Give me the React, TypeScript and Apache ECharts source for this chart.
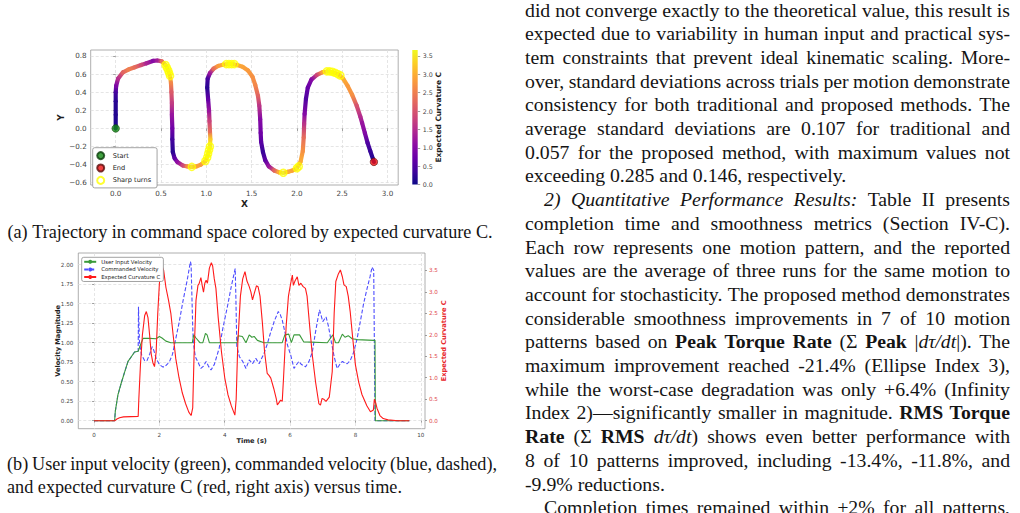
import React, { useEffect, useRef } from "react";
import * as echarts from "echarts";

// ---------- (a) trajectory in command space: [x, y, expected curvature C] ----------
const trajectory: [number, number, number][] = [
  [0, 0, 0.1], [0, 0.15, 0.15], [0, 0.3, 0.2], [0, 0.4, 0.4], [0.005, 0.47, 0.9],
  [0.026, 0.55, 1.5], [0.08, 0.62, 2.2], [0.14, 0.65, 2.5], [0.21, 0.675, 2.3], [0.28, 0.7, 1.9],
  [0.34, 0.72, 1.4], [0.41, 0.745, 1.0], [0.46, 0.75, 1.3], [0.51, 0.74, 2.3], [0.55, 0.7, 3.55],
  [0.58, 0.64, 3.6], [0.6, 0.58, 3.4], [0.61, 0.5, 2.6], [0.615, 0.4, 2.1], [0.62, 0.28, 1.7],
  [0.62, 0.15, 1.2], [0.625, 0.0, 0.8], [0.625, -0.12, 0.4], [0.63, -0.26, 0.2], [0.65, -0.33, 0.6],
  [0.68, -0.37, 1.1], [0.74, -0.41, 1.8], [0.79, -0.42, 2.6], [0.84, -0.425, 3.5], [0.89, -0.42, 2.9],
  [0.94, -0.4, 2.8], [0.99, -0.36, 3.4], [1.02, -0.29, 3.6], [1.04, -0.2, 3.6], [1.045, -0.12, 3.3],
  [1.04, -0.03, 2.3], [1.035, 0.08, 1.8], [1.03, 0.2, 1.2], [1.02, 0.32, 0.7], [1.01, 0.45, 0.2],
  [1.015, 0.55, 0.4], [1.04, 0.61, 1.2], [1.08, 0.66, 2.3], [1.13, 0.69, 2.8], [1.19, 0.705, 3.0],
  [1.24, 0.71, 3.6], [1.29, 0.71, 3.6], [1.34, 0.7, 3.0], [1.4, 0.68, 2.9], [1.46, 0.64, 2.8],
  [1.51, 0.57, 2.7], [1.54, 0.48, 2.6], [1.57, 0.36, 2.2], [1.585, 0.25, 1.6], [1.595, 0.1, 1.0],
  [1.6, -0.05, 0.8], [1.605, -0.15, 0.6], [1.625, -0.26, 0.3], [1.65, -0.35, 0.6], [1.69, -0.42, 1.2],
  [1.75, -0.465, 2.2], [1.8, -0.485, 3.0], [1.85, -0.49, 3.6], [1.9, -0.48, 3.0], [1.95, -0.465, 2.9],
  [2.0, -0.44, 3.5], [2.04, -0.37, 3.0], [2.065, -0.25, 2.7], [2.075, -0.1, 2.3], [2.08, 0.05, 1.6],
  [2.085, 0.16, 1.0], [2.1, 0.33, 0.5], [2.12, 0.45, 0.7], [2.16, 0.54, 1.0], [2.22, 0.59, 1.8],
  [2.28, 0.62, 2.8], [2.34, 0.63, 3.6], [2.4, 0.62, 3.6], [2.46, 0.595, 3.4], [2.51, 0.55, 3.0],
  [2.56, 0.47, 2.8], [2.61, 0.37, 2.7], [2.66, 0.25, 2.0], [2.7, 0.13, 1.5], [2.72, 0.06, 1.2],
  [2.75, -0.05, 1.0], [2.78, -0.16, 0.5], [2.81, -0.25, 0.3], [2.84, -0.34, 0.15], [2.85, -0.37, 0.1],
];

const sharpTurns: [number, number][] = [
  [0.55, 0.7], [0.565, 0.67], [0.58, 0.64], [0.59, 0.61], [0.6, 0.58],
  [0.84, -0.425],
  [0.99, -0.36], [1.01, -0.32], [1.02, -0.28], [1.03, -0.24], [1.04, -0.2],
  [1.22, 0.71], [1.25, 0.71], [1.28, 0.71], [1.31, 0.71],
  [1.85, -0.49],
  [2.0, -0.44], [2.02, -0.42],
  [2.33, 0.63], [2.36, 0.63], [2.39, 0.625], [2.42, 0.615], [2.45, 0.6], [2.48, 0.585],
];

const startPoint: [number, number] = [0, 0];
const endPoint: [number, number] = [2.85, -0.37];

const trajXTicks = [0, 0.5, 1, 1.5, 2, 2.5, 3];
const trajYTicks = [-0.6, -0.4, -0.2, 0, 0.2, 0.4, 0.6, 0.8];
const colorbarTicks = [0, 0.5, 1, 1.5, 2, 2.5, 3, 3.5];

// ---------- (b) velocities and expected curvature versus time: [t, value] ----------
const userVelocity: [number, number][] = [
  [0, 0], [0.63, 0], [0.65, 0.12], [0.73, 0.33], [0.83, 0.48], [0.94, 0.63], [1.04, 0.76],
  [1.14, 0.82], [1.24, 0.88], [1.35, 0.89], [1.42, 0.97], [1.5, 1.055], [1.7, 1.055], [1.9, 1.05],
  [2.0, 1.08], [2.08, 1.06], [2.2, 1.02], [2.35, 1.0], [3.01, 1.0], [3.05, 1.1], [3.12, 1.06],
  [3.24, 1.0], [3.33, 1.0], [3.41, 1.12], [3.46, 1.1], [3.53, 1.0], [4.38, 1.0], [4.41, 1.09],
  [4.54, 1.08], [4.65, 1.0], [4.75, 1.1], [4.83, 1.07], [4.9, 1.08], [5.0, 1.03], [5.2, 1.0],
  [5.76, 1.0], [5.84, 1.1], [5.96, 1.11], [6.04, 1.0], [6.12, 1.1], [6.29, 1.1], [6.42, 1.01],
  [7.14, 1.0], [7.24, 1.06], [7.31, 1.1], [7.39, 1.0], [7.48, 1.0], [7.6, 1.11], [7.68, 1.07],
  [7.78, 1.09], [7.9, 1.05], [8.05, 1.04], [8.56, 1.03], [8.6, 1.03], [8.61, 0], [9.65, 0],
];

const commandedVelocity: [number, number][] = [
  [0, 0], [0.63, 0], [0.65, 0.12], [0.73, 0.33], [0.83, 0.48], [0.94, 0.63], [1.04, 0.76],
  [1.14, 0.82], [1.24, 0.88], [1.35, 0.89], [1.36, 1.46], [1.39, 1.0], [1.45, 0.85], [1.55, 0.77],
  [1.62, 0.77], [1.7, 0.85], [1.78, 0.95], [1.83, 0.9], [1.9, 0.8], [2.0, 0.72], [2.1, 0.69],
  [2.16, 0.69], [2.25, 0.73], [2.31, 0.76], [2.4, 0.85], [2.46, 0.97], [2.6, 1.25], [2.72, 1.53],
  [2.85, 1.8], [2.95, 2.04], [2.97, 2.0], [3.02, 1.2], [3.04, 1.0], [3.1, 0.82], [3.17, 0.76],
  [3.27, 0.67], [3.35, 0.7], [3.43, 0.76], [3.5, 0.7], [3.58, 0.65], [3.68, 0.72], [3.83, 0.93],
  [3.95, 1.2], [4.09, 1.48], [4.2, 1.72], [4.32, 1.95], [4.34, 1.6], [4.37, 0.95], [4.45, 0.82],
  [4.55, 0.76], [4.65, 0.67], [4.75, 0.78], [4.85, 0.73], [4.95, 0.8], [5.05, 0.73], [5.2, 0.86],
  [5.3, 0.98], [5.41, 1.14], [5.52, 1.28], [5.64, 1.4], [5.7, 1.36], [5.76, 1.29], [5.85, 1.12],
  [5.92, 0.97], [6.02, 0.84], [6.12, 0.67], [6.2, 0.72], [6.27, 0.76], [6.35, 0.72], [6.47, 0.69],
  [6.58, 0.76], [6.68, 0.88], [6.78, 1.14], [6.9, 1.42], [6.95, 1.35], [7.0, 1.27], [7.05, 1.3],
  [7.1, 1.33], [7.17, 1.22], [7.24, 1.06], [7.35, 0.82], [7.44, 0.67], [7.52, 0.72], [7.6, 0.76],
  [7.68, 0.74], [7.75, 0.73], [7.85, 0.78], [7.95, 0.88], [8.05, 1.05], [8.15, 1.27], [8.25, 1.5],
  [8.36, 1.7], [8.45, 1.85], [8.51, 1.97], [8.56, 1.93], [8.58, 1.0], [8.6, 0], [9.65, 0],
];

const expectedCurvature: [number, number][] = [
  [0, 0], [0.64, 0], [0.7, 0.04], [0.78, 0.07], [0.9, 0.09], [1.35, 0.1], [1.37, 0.5], [1.42, 1.3],
  [1.48, 2.0], [1.55, 2.45], [1.6, 2.54], [1.65, 2.4], [1.7, 2.0], [1.75, 1.55], [1.8, 1.35],
  [1.85, 1.26], [1.9, 1.6], [1.95, 2.5], [2.0, 3.2], [2.07, 3.62], [2.13, 3.5], [2.2, 3.1],
  [2.28, 2.8], [2.35, 2.5], [2.42, 2.0], [2.5, 1.45], [2.6, 1.0], [2.7, 0.65], [2.8, 0.4],
  [2.9, 0.2], [2.97, 0.12], [3.02, 0.3], [3.06, 1.5], [3.12, 2.8], [3.18, 3.15], [3.22, 3.2],
  [3.27, 3.33], [3.31, 3.15], [3.35, 2.99], [3.39, 3.2], [3.43, 3.27], [3.47, 3.2], [3.53, 3.55],
  [3.59, 3.68], [3.63, 3.6], [3.68, 3.3], [3.73, 3.08], [3.8, 2.4], [3.9, 1.6], [4.0, 1.0],
  [4.1, 0.6], [4.2, 0.35], [4.31, 0.13], [4.35, 0.5], [4.4, 1.8], [4.48, 2.9], [4.55, 3.3],
  [4.62, 3.47], [4.68, 3.25], [4.75, 3.12], [4.8, 3.0], [4.85, 2.81], [4.9, 2.95], [4.97, 3.14],
  [5.02, 3.12], [5.08, 2.9], [5.15, 2.3], [5.22, 1.6], [5.3, 1.1], [5.36, 1.05], [5.41, 0.99],
  [5.5, 0.75], [5.58, 0.5], [5.61, 0.37], [5.66, 0.42], [5.71, 0.48], [5.76, 0.45], [5.8, 1.0],
  [5.88, 2.2], [5.95, 2.9], [6.02, 3.2], [6.07, 3.39], [6.1, 3.15], [6.15, 3.25], [6.22, 3.35],
  [6.27, 3.15], [6.33, 3.2], [6.4, 3.12], [6.47, 3.08], [6.52, 2.9], [6.6, 2.2], [6.68, 1.53],
  [6.78, 0.9], [6.88, 0.4], [6.93, 0.36], [6.98, 0.52], [7.03, 0.5], [7.1, 0.45], [7.2, 0.55],
  [7.29, 1.14], [7.35, 2.5], [7.4, 3.24], [7.47, 3.4], [7.54, 3.51], [7.6, 3.35], [7.65, 3.16],
  [7.72, 3.12], [7.78, 2.9], [7.84, 2.54], [7.92, 1.9], [8.0, 1.3], [8.1, 0.9], [8.2, 0.61],
  [8.35, 0.35], [8.46, 0.21], [8.55, 0.25], [8.58, 0.5], [8.62, 0.42], [8.66, 0.29], [8.75, 0.12],
  [8.85, 0.05], [9.0, 0.02], [9.3, 0], [9.65, 0],
];

const timeTicks = [0, 2, 4, 6, 8, 10];
const velocityTicks = [0, 0.25, 0.5, 0.75, 1, 1.25, 1.5, 1.75, 2];
const curvatureTicks = [0, 0.5, 1, 1.5, 2, 2.5, 3, 3.5];

// ---------- page text ----------
const bodyLines = [
  "did not converge exactly to the theoretical value, this result is",
  "expected due to variability in human input and practical sys-",
  "tem constraints that prevent ideal kinematic scaling. More-",
  "over, standard deviations across trials per motion demonstrate",
  "consistency for both traditional and proposed methods. The",
  "average standard deviations are 0.107 for traditional and",
  "0.057 for the proposed method, with maximum values not",
  "exceeding 0.285 and 0.146, respectively.",
  "*2) Quantitative Performance Results:* Table II presents",
  "completion time and smoothness metrics (Section IV-C).",
  "Each row represents one motion pattern, and the reported",
  "values are the average of three runs for the same motion to",
  "account for stochasticity. The proposed method demonstrates",
  "considerable smoothness improvements in 7 of 10 motion",
  "patterns based on **Peak Torque Rate** (Σ **Peak** |*dτ/dt*|). The",
  "maximum improvement reached -21.4% (Ellipse Index 3),",
  "while the worst-case degradation was only +6.4% (Infinity",
  "Index 2)—significantly smaller in magnitude. **RMS Torque**",
  "**Rate** (Σ **RMS** *dτ/dt*) shows even better performance with",
  "8 of 10 patterns improved, including -13.4%, -11.8%, and",
  "-9.9% reductions.",
  "Completion times remained within ±2% for all patterns,",
];
const bodyIndented = [8, 21];
const bodyRagged = [7, 20];

const captionA = "(a) Trajectory in command space colored by expected curvature C.";
const captionB = [
  "(b) User input velocity (green), commanded velocity (blue, dashed),",
  "and expected curvature C (red, right axis) versus time.",
];

// ---------- styling ----------
const SANS = '"DejaVu Sans", sans-serif';
const SERIF = '"Liberation Serif", "Times New Roman", serif';
const INK = "#141414";
const PLASMA = ["#0d0887", "#41049d", "#6a00a8", "#8f0da4", "#b12a90", "#cc4778", "#e16462", "#f2844b", "#fca636", "#fcce25", "#f0f921"];
const C_MAX = 3.66;

const plasma = (c: number) => echarts.color.lerp(Math.max(0, Math.min(1, c / C_MAX)), PLASMA) as string;
const minus = (s: string) => s.replace("-", "\u2212");

type Run = { text: string; bold: boolean; italic: boolean };

// Split a marked-up line (**bold**, *italic*) into words made of styled runs.
function parseWords(line: string): Run[][] {
  const chars: { ch: string; b: boolean; i: boolean }[] = [];
  let b = false;
  let it = false;
  for (let k = 0; k < line.length; ) {
    if (line.startsWith("**", k)) { b = !b; k += 2; continue; }
    if (line[k] === "*") { it = !it; k += 1; continue; }
    chars.push({ ch: line[k], b, i: it });
    k += 1;
  }
  const words: Run[][] = [];
  let cur: Run[] = [];
  for (const c of chars) {
    if (c.ch === " ") { if (cur.length) words.push(cur); cur = []; continue; }
    const last = cur[cur.length - 1];
    if (last && last.bold === c.b && last.italic === c.i) last.text += c.ch;
    else cur.push({ text: c.ch, bold: c.b, italic: c.i });
  }
  if (cur.length) words.push(cur);
  return words;
}

function buildTextElements() {
  const ctx = document.createElement("canvas").getContext("2d")!;
  const fontOf = (r: { bold: boolean; italic: boolean }, size: number) =>
    `${r.italic ? "italic" : "normal"} ${r.bold ? "bold" : "normal"} ${size}px ${SERIF}`;
  const measure = (s: string, font: string) => { ctx.font = font; return ctx.measureText(s).width; };
  const out: any[] = [];

  // Lay out one line between x0 and x1; justified lines spread the inter-word gaps.
  const setLine = (line: string, x0: number, x1: number | null, y: number, size: number, justify: boolean, center?: number) => {
    const words = parseWords(line);
    const widths = words.map((w) => w.reduce((s, r) => s + measure(r.text, fontOf(r, size)), 0));
    const total = widths.reduce((a, v) => a + v, 0);
    const space = measure(" ", fontOf({ bold: false, italic: false }, size));
    const gap = justify && x1 !== null && words.length > 1 ? (x1 - x0 - total) / (words.length - 1) : space;
    let x = center !== undefined ? center - (total + space * (words.length - 1)) / 2 : x0;
    words.forEach((w, wi) => {
      let rx = x;
      w.forEach((r) => {
        out.push({
          type: "text",
          x: rx,
          y,
          silent: true,
          style: {
            text: r.text,
            fontSize: size,
            fontFamily: SERIF,
            fontWeight: r.bold ? "bold" : "normal",
            fontStyle: r.italic ? "italic" : "normal",
            fill: INK,
            align: "left",
            verticalAlign: "middle",
            textAlign: "left",
            textVerticalAlign: "middle",
          },
        });
        rx += measure(r.text, fontOf(r, size));
      });
      x += widths[wi] + gap;
    });
  };

  const bodyX0 = 525;
  const bodyX1 = 1010;
  const bodyTop = 9.5;
  const lineStep = 23.7;
  const bodySize = 19.75;
  bodyLines.forEach((line, i) => {
    const indent = bodyIndented.includes(i) ? 19 : 0;
    setLine(line, bodyX0 + indent, bodyX1, bodyTop + i * lineStep, bodySize, !bodyRagged.includes(i));
  });

  const capSize = 18.2;
  setLine(captionA, 7, null, 231.7, capSize, false, 250);
  setLine(captionB[0], 7, 497, 464, capSize, true);
  setLine(captionB[1], 7, null, 487.3, capSize, false);
  return out;
}

function buildOption(): echarts.EChartsOption {
  const gridLine = { show: true, lineStyle: { color: "#dedede", type: [3, 2] as any, width: 0.8 } };
  const tickStyle = { lineStyle: { color: "#888", width: 0.8 } };
  const labelStyle = (size: number, color = "#444") => ({ fontSize: size, color, fontFamily: SANS });
  const nameStyle = (size: number, color = "#1e1e1e") => ({ fontSize: size, fontWeight: "bold" as const, color, fontFamily: SANS });

  const colorbarGradient = new echarts.graphic.LinearGradient(
    0, 1, 0, 0,
    PLASMA.map((c, i) => ({ offset: i / (PLASMA.length - 1), color: c }))
  );

  return {
    animation: false,
    backgroundColor: "#ffffff",
    grid: [
      { left: 90.7, top: 50, width: 307.5, height: 135, show: true, borderColor: "#9a9a9a", borderWidth: 0.8, containLabel: false, outerBoundsMode: "none" } as any,
      { left: 412.3, top: 50, width: 5.4, height: 134.5, show: false, containLabel: false, outerBoundsMode: "none" } as any,
      { left: 78.3, top: 253, width: 346.7, height: 175.7, show: true, borderColor: "#9a9a9a", borderWidth: 0.8, containLabel: false, outerBoundsMode: "none" } as any,
    ],
    xAxis: [
      {
        gridIndex: 0, type: "value", min: -0.276, max: 3.118,
        axisLine: { show: false },
        axisTick: { show: true, length: 2.5, customValues: trajXTicks, ...tickStyle } as any,
        axisLabel: { customValues: trajXTicks, margin: 5, formatter: (v: number) => minus(v.toFixed(1)), ...labelStyle(7.2) } as any,
        splitLine: gridLine,
        name: "X", nameLocation: "middle", nameGap: 14, nameTextStyle: nameStyle(9), nameMoveOverlap: false,
      } as any,
      { gridIndex: 1, type: "category", data: ["C"], show: false },
      {
        gridIndex: 2, type: "value", min: -0.4825, max: 10.13,
        axisLine: { show: false },
        axisTick: { show: true, length: 2, customValues: timeTicks, ...tickStyle } as any,
        axisLabel: { customValues: timeTicks, margin: 3, formatter: (v: number) => String(v), ...labelStyle(5.6) } as any,
        splitLine: gridLine,
        name: "Time (s)", nameLocation: "middle", nameGap: 9, nameTextStyle: nameStyle(6.6), nameMoveOverlap: false,
      } as any,
    ],
    yAxis: [
      {
        gridIndex: 0, type: "value", min: -0.625, max: 0.866,
        axisLine: { show: false },
        axisTick: { show: true, length: 2.5, customValues: trajYTicks, ...tickStyle } as any,
        axisLabel: { customValues: trajYTicks, margin: 4, formatter: (v: number) => minus(v.toFixed(1)), ...labelStyle(7.2) } as any,
        splitLine: gridLine,
        name: "Y", nameLocation: "middle", nameRotate: 90, nameGap: 25, nameTextStyle: nameStyle(9), nameMoveOverlap: false,
      } as any,
      {
        gridIndex: 1, type: "value", position: "right", min: 0, max: C_MAX,
        axisLine: { show: false },
        axisTick: { show: true, length: 2.5, customValues: colorbarTicks, ...tickStyle } as any,
        axisLabel: { customValues: colorbarTicks, margin: 5, formatter: (v: number) => v.toFixed(1), ...labelStyle(6.3) } as any,
        splitLine: { show: false },
        name: "Expected Curvature C", nameLocation: "middle", nameRotate: 90, nameGap: 17, nameTextStyle: nameStyle(7.4), nameMoveOverlap: false,
      } as any,
      {
        gridIndex: 2, type: "value", min: -0.1026, max: 2.15,
        axisLine: { show: false },
        axisTick: { show: true, length: 2, customValues: velocityTicks, ...tickStyle } as any,
        axisLabel: { customValues: velocityTicks, margin: 5, formatter: (v: number) => v.toFixed(2), ...labelStyle(5.6) } as any,
        splitLine: gridLine,
        name: "Velocity Magnitude", nameLocation: "middle", nameRotate: 90, nameGap: 17, nameTextStyle: nameStyle(6.6), nameMoveOverlap: false,
      } as any,
      {
        gridIndex: 2, type: "value", position: "right", min: -0.186, max: 3.903,
        axisLine: { show: false },
        axisTick: { show: true, length: 2, customValues: curvatureTicks, ...tickStyle } as any,
        axisLabel: { customValues: curvatureTicks, margin: 4, formatter: (v: number) => v.toFixed(1), ...labelStyle(5.6, "#e0474a") } as any,
        splitLine: { show: false },
        name: "Expected Curvature C", nameLocation: "middle", nameRotate: 90, nameGap: 15, nameTextStyle: nameStyle(6.6, "#e8262b"), nameMoveOverlap: false,
      } as any,
    ],
    legend: [
      {
        orient: "vertical", left: 92.7, top: 147.7, padding: [3.4, 6, 3, 3.5], itemGap: 3.4,
        itemWidth: 14, itemHeight: 7, backgroundColor: "#ffffff", borderColor: "#8c8c8c", borderWidth: 0.8, borderRadius: 2,
        selectedMode: false, textStyle: { fontSize: 6.6, color: "#222", fontFamily: SANS },
        data: ["Start", "End", "Sharp turns"],
      },
      {
        orient: "vertical", left: 81.7, top: 257.3, padding: [2, 3, 2, 1.5], itemGap: 2.6,
        itemWidth: 12, itemHeight: 5, backgroundColor: "#ffffff", borderColor: "#8c8c8c", borderWidth: 0.8, borderRadius: 2,
        selectedMode: false, textStyle: { fontSize: 5.4, color: "#222", fontFamily: SANS },
        data: ["User Input Velocity", "Commanded Velocity", "Expected Curvature C"],
      },
    ],
    series: [
      {
        // trajectory drawn as short segments, each shaded between the curvature colours of its ends
        type: "custom",
        name: "trajectory",
        xAxisIndex: 0,
        yAxisIndex: 0,
        silent: true,
        encode: { x: 0, y: 1 },
        data: trajectory,
        renderItem: (params: any, api: any) => {
          const i = params.dataIndex;
          if (i >= trajectory.length - 1) return { type: "group", children: [] };
          const a = trajectory[i];
          const b = trajectory[i + 1];
          const p1 = api.coord([a[0], a[1]]);
          const p2 = api.coord([b[0], b[1]]);
          return {
            type: "line",
            shape: { x1: p1[0], y1: p1[1], x2: p2[0], y2: p2[1] },
            style: {
              stroke: new echarts.graphic.LinearGradient(p1[0], p1[1], p2[0], p2[1] + 0.01, [
                { offset: 0, color: plasma(a[2]) },
                { offset: 1, color: plasma(b[2]) },
              ], true),
              lineWidth: 4.2,
              lineCap: "round",
            },
          };
        },
      } as any,
      {
        type: "scatter", name: "Sharp turns", xAxisIndex: 0, yAxisIndex: 0, data: sharpTurns,
        symbol: "circle", symbolSize: 7,
        itemStyle: { color: "rgba(255,255,255,0)", borderColor: "#ffff00", borderWidth: 1.6 },
        silent: true, z: 3,
      },
      {
        type: "scatter", name: "Start", xAxisIndex: 0, yAxisIndex: 0, data: [startPoint],
        symbol: "circle", symbolSize: 7.5,
        itemStyle: { color: "#118a11", borderColor: "#0b3d0b", borderWidth: 0.7 },
        silent: true, z: 4,
      },
      {
        type: "scatter", name: "End", xAxisIndex: 0, yAxisIndex: 0, data: [endPoint],
        symbol: "circle", symbolSize: 7.5,
        itemStyle: { color: "#ee1111", borderColor: "#5a0a0a", borderWidth: 0.7 },
        silent: true, z: 4,
      },
      {
        type: "bar", name: "colorbar", xAxisIndex: 1, yAxisIndex: 1, data: [C_MAX],
        barWidth: "100%", itemStyle: { color: colorbarGradient as any }, silent: true,
      },
      {
        type: "line", name: "Commanded Velocity", xAxisIndex: 2, yAxisIndex: 2, data: commandedVelocity,
        symbol: "none", showSymbol: false, silent: true,
        lineStyle: { color: "#4d4dff", width: 1.1, type: [4, 2] as any },
        itemStyle: { color: "#4d4dff" },
      },
      {
        type: "line", name: "User Input Velocity", xAxisIndex: 2, yAxisIndex: 2, data: userVelocity,
        symbol: "none", showSymbol: false, silent: true,
        lineStyle: { color: "#3a9a3a", width: 1.1 },
        itemStyle: { color: "#3a9a3a" },
      },
      {
        type: "line", name: "Expected Curvature C", xAxisIndex: 2, yAxisIndex: 3, data: expectedCurvature,
        symbol: "none", showSymbol: false, silent: true,
        lineStyle: { color: "#ff1a1a", width: 1.1 },
        itemStyle: { color: "#ff1a1a" },
      },
    ],
    graphic: { elements: buildTextElements() },
  };
}

export default function App() {
  const ref = useRef<HTMLDivElement>(null);
  useEffect(() => {
    document.body.style.margin = "0";
    const chart = echarts.init(ref.current!, undefined, { renderer: "svg" });
    chart.setOption(buildOption());
    return () => chart.dispose();
  }, []);
  return <div ref={ref} style={{ width: 1020, height: 513, background: "#ffffff" }} />;
}
